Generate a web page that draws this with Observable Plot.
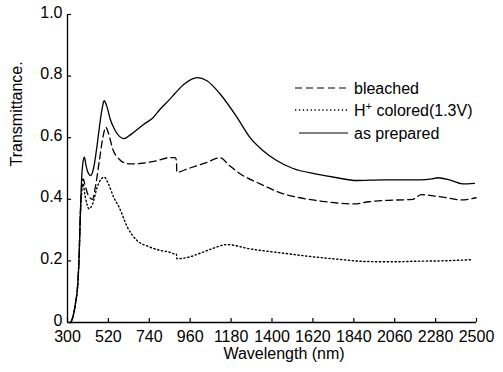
<!DOCTYPE html>
<html>
<head>
<meta charset="utf-8">
<script src="https://cdn.jsdelivr.net/npm/d3@7"></script>
<script src="https://cdn.jsdelivr.net/npm/@observablehq/plot@0.6"></script>
<style>
  html, body { margin: 0; padding: 0; background: #fff; }
  #wrap { position: relative; width: 503px; height: 372px; }
  #legend { position: absolute; left: 0; top: 0; pointer-events: none; }
</style>
</head>
<body>
<div id="wrap"></div>
<script>
// ---- tick values and labels ----
const xTicks = [300, 520, 740, 960, 1180, 1400, 1620, 1840, 2060, 2280, 2500];
const yTicks = [0, 0.2, 0.4, 0.6, 0.8, 1.0];
const yTickLabels = ["0", "0.2", "0.4", "0.6", "0.8", "1.0"];
const xLabel = "Wavelength (nm)";
const yLabel = "Transmittance.";

// ---- series names (legend order) ----
const seriesNames = ["bleached", "H+ colored(1.3V)", "as prepared"];

// ---- as prepared (solid) ----
const preparedX = [318, 330, 345, 354, 363, 368, 374, 383, 391, 398, 408, 425, 440, 458, 475, 488, 497, 510, 530, 555, 578, 604, 640, 709, 760, 799, 853, 880, 930, 998, 1050, 1121, 1211, 1282, 1352, 1425, 1513, 1640, 1750, 1854, 1996, 2100, 2194, 2260, 2291, 2355, 2425, 2489];
const preparedY = [0, 0.02, 0.07, 0.115, 0.224, 0.33, 0.44, 0.52, 0.537, 0.515, 0.49, 0.477, 0.50, 0.57, 0.65, 0.70, 0.72, 0.705, 0.66, 0.625, 0.605, 0.597, 0.61, 0.643, 0.665, 0.693, 0.727, 0.745, 0.775, 0.795, 0.785, 0.742, 0.667, 0.60, 0.558, 0.526, 0.50, 0.482, 0.47, 0.461, 0.463, 0.463, 0.463, 0.466, 0.47, 0.463, 0.45, 0.452];

// ---- bleached (dashed) ----
const bleachedX = [318, 330, 345, 354, 363, 368, 374, 384, 395, 410, 434, 450, 470, 490, 506, 520, 545, 577, 600, 638, 700, 780, 850, 880, 886, 888, 950, 1050, 1121, 1170, 1228, 1336, 1461, 1550, 1640, 1750, 1845, 1920, 1997, 2157, 2203, 2318, 2418, 2498];
const bleachedY = [0, 0.02, 0.07, 0.115, 0.224, 0.33, 0.42, 0.466, 0.445, 0.415, 0.40, 0.44, 0.52, 0.60, 0.634, 0.615, 0.56, 0.531, 0.52, 0.515, 0.517, 0.525, 0.535, 0.535, 0.525, 0.488, 0.50, 0.52, 0.535, 0.51, 0.483, 0.45, 0.418, 0.405, 0.396, 0.388, 0.385, 0.392, 0.396, 0.40, 0.415, 0.407, 0.398, 0.405];

// ---- H+ colored (dotted) ----
const coloredX = [318, 330, 345, 354, 363, 368, 374, 383, 395, 416, 435, 460, 480, 497, 520, 548, 577, 622, 674, 730, 799, 850, 880, 886, 888, 950, 1014, 1080, 1157, 1282, 1461, 1640, 1727, 1908, 2050, 2176, 2302, 2479];
const coloredY = [0, 0.02, 0.07, 0.115, 0.224, 0.33, 0.40, 0.45, 0.41, 0.369, 0.385, 0.44, 0.465, 0.472, 0.45, 0.407, 0.375, 0.31, 0.266, 0.248, 0.234, 0.228, 0.222, 0.222, 0.207, 0.212, 0.225, 0.24, 0.253, 0.239, 0.225, 0.212, 0.207, 0.198, 0.197, 0.199, 0.2, 0.204];

const toRows = (xs, ys) => xs.map((x, i) => ({x, y: ys[i]}));
const prepared = toRows(preparedX, preparedY);
const bleached = toRows(bleachedX, bleachedY);
const colored = toRows(coloredX, coloredY);

const font = "'Liberation Sans', Arial, Helvetica, sans-serif";
const tickLenX = 0.013;               // inward tick length in y units (~4px)
const tickLenY = 22;                  // inward tick length in x units (~4px)

const chart = Plot.plot({
  width: 503,
  height: 372,
  marginLeft: 67,
  marginRight: 27,
  marginTop: 14,
  marginBottom: 50,
  style: {fontFamily: font, fontSize: "16px", color: "#000", background: "#fff"},
  x: {domain: [300, 2500]},
  y: {domain: [0, 1]},
  marks: [
    Plot.axisX(xTicks, {tickSize: 0, tickPadding: 8, tickFormat: d => String(d), label: null, fontSize: 16}),
    Plot.axisY(yTicks, {tickSize: 0, tickPadding: 5, dy: -2, tickFormat: d => yTickLabels[yTicks.indexOf(d)], label: null, fontSize: 16}),
    Plot.ruleX(xTicks, {x: d => d, y1: 0, y2: tickLenX, stroke: "#000", strokeWidth: 1.2}),
    Plot.ruleY(yTicks, {y: d => d, x1: 300, x2: 300 + tickLenY, stroke: "#000", strokeWidth: 1.2}),
    Plot.ruleX([300], {stroke: "#000", strokeWidth: 1.3}),
    Plot.ruleY([0], {stroke: "#000", strokeWidth: 1.3}),
    Plot.line(colored, {x: "x", y: "y", stroke: "#000", strokeWidth: 1.4, strokeDasharray: "1.3,2.6", curve: "monotone-x"}),
    Plot.line(bleached, {x: "x", y: "y", stroke: "#000", strokeWidth: 1.3, strokeDasharray: "7,4", curve: "monotone-x"}),
    Plot.line(prepared, {x: "x", y: "y", stroke: "#000", strokeWidth: 1.3, curve: "monotone-x"}),
    Plot.text([xLabel], {frameAnchor: "bottom", dx: 12, dy: 36, fontSize: 16, fill: "#000"}),
    Plot.text([yLabel], {frameAnchor: "left", rotate: -90, dx: -51, dy: -2, fontSize: 16, fill: "#000"})
  ]
});
const wrap = document.getElementById("wrap");
wrap.appendChild(chart);

// ---- legend overlay ----
const ns = "http://www.w3.org/2000/svg";
const leg = document.createElementNS(ns, "svg");
leg.setAttribute("id", "legend");
leg.setAttribute("width", 503);
leg.setAttribute("height", 372);
const legDash = ["7,4", "1.3,2.6", null];
const legRowY = [88, 110, 133];
seriesNames.forEach((name, i) => {
  const ln = document.createElementNS(ns, "line");
  ln.setAttribute("x1", i === 2 ? 299 : 295);
  ln.setAttribute("x2", 348);
  ln.setAttribute("y1", legRowY[i]);
  ln.setAttribute("y2", legRowY[i]);
  ln.setAttribute("stroke", "#000");
  ln.setAttribute("stroke-width", i === 1 ? 1.3 : 1.2);
  if (legDash[i]) ln.setAttribute("stroke-dasharray", legDash[i]);
  leg.appendChild(ln);
  const t = document.createElementNS(ns, "text");
  t.setAttribute("x", 354);
  t.setAttribute("y", legRowY[i] + 6);
  t.setAttribute("font-family", font);
  t.setAttribute("font-size", 16);
  t.setAttribute("fill", "#000");
  if (name.startsWith("H+")) {
    t.appendChild(document.createTextNode("H"));
    const sup = document.createElementNS(ns, "tspan");
    sup.setAttribute("font-size", 11);
    sup.setAttribute("dy", -6);
    sup.textContent = "+";
    t.appendChild(sup);
    const rest = document.createElementNS(ns, "tspan");
    rest.setAttribute("dy", 6);
    rest.textContent = name.slice(2);
    t.appendChild(rest);
  } else {
    t.textContent = name;
  }
  leg.appendChild(t);
});
wrap.appendChild(leg);
</script>
</body>
</html>
